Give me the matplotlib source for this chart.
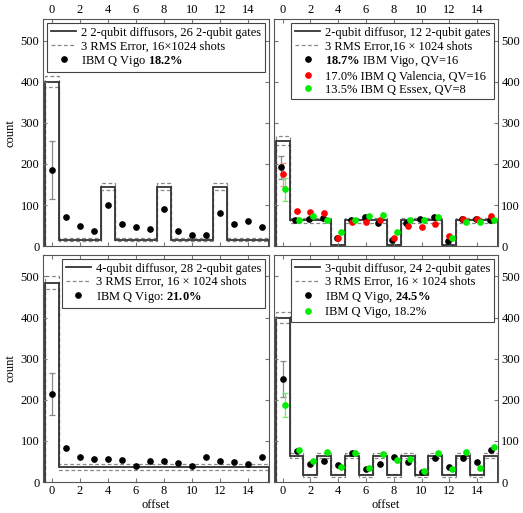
import numpy as np
import matplotlib
matplotlib.use('Agg')
import matplotlib.pyplot as plt
from matplotlib.lines import Line2D

plt.rcParams['font.family'] = ['Liberation Serif', 'DejaVu Serif']
plt.rcParams['font.size'] = 9
plt.rcParams['mathtext.fontset'] = 'custom'
plt.rcParams['mathtext.rm'] = 'Liberation Serif'
plt.rcParams['mathtext.bf'] = 'Liberation Serif:bold'

offsets = np.arange(16)
edges = np.arange(-0.5, 16.5)

# top left: 2 2-qubit diffusors
tl_ideal = [400, 16, 16, 16, 145, 16, 16, 16, 145, 16, 16, 16, 145, 16, 16, 16]
tl_err = [13, 3, 3, 3, 8, 3, 3, 3, 8, 3, 3, 3, 8, 3, 3, 3]
tl_vigo = [186, 70, 49, 36, 100, 53, 48, 41, 90, 38, 27, 27, 82, 53, 61, 46]
tl_vigo_err = 71

# top right: 2-qubit diffusor
tr_ideal = [257, 63, 63, 63, 2, 63, 63, 63, 2, 63, 63, 63, 2, 63, 63, 63]
tr_err = [12, 6, 6, 6, 2, 6, 6, 6, 2, 6, 6, 6, 2, 6, 6, 6]
tr_vigo = [192, 63, 66, 69, 19, 65, 71, 57, 15, 57, 67, 71, 12, 66, 66, 65]
tr_valencia = [175, 85, 84, 82, 20, 60, 60, 63, 20, 49, 47, 53, 26, 66, 66, 73]
tr_essex = [138, 65, 73, 65, 35, 65, 73, 76, 34, 64, 64, 70, 20, 59, 59, 65]
tr_point_err = 28

# bottom left: 4-qubit diffusor
bl_ideal = [485, 36, 36, 36, 36, 36, 36, 36, 36, 36, 36, 36, 36, 36, 36, 36]
bl_err = [16, 7, 7, 7, 7, 7, 7, 7, 7, 7, 7, 7, 7, 7, 7, 7]
bl_vigo = [214, 82, 61, 56, 57, 53, 40, 51, 52, 46, 40, 61, 52, 49, 43, 62]
bl_vigo_err = 51

# bottom right: 3-qubit diffusor
br_ideal = [400, 64, 16, 64, 16, 64, 16, 64, 16, 64, 16, 64, 16, 64, 16, 64]
br_err = [14, 6, 3, 6, 3, 6, 3, 6, 3, 6, 3, 6, 3, 6, 3, 6]
br_vigo = [251, 76, 44, 51, 42, 70, 32, 45, 61, 48, 25, 58, 37, 59, 49, 79]
br_vigo_err = 44
br_vigo2 = [187, 77, 51, 72, 37, 70, 34, 68, 54, 57, 27, 70, 32, 72, 35, 86]
br_vigo2_err = 29

line_col = '#333333'
dash_col = '#888888'
green = '#00ee00'
msize = 3.8


def draw_ideal(ax, ideal, err):
    ideal = np.array(ideal)
    err = np.array(err)
    ax.stairs(ideal + err, edges, baseline=0, color=dash_col, lw=0.9, ls=(0, (3, 2)))
    ax.stairs(ideal - err, edges, baseline=0, color=dash_col, lw=0.9, ls=(0, (3, 2)))
    ax.stairs(ideal, edges, baseline=0, color=line_col, lw=1.3)


def draw_points(ax, vals, err0, color, shift, ecolor):
    ax.plot(offsets + shift, vals, 'o', color=color, ms=msize, zorder=5)
    ax.errorbar([shift], [vals[0]], yerr=err0, fmt='none', ecolor=ecolor,
                elinewidth=0.9, capsize=2.5, capthick=0.9, zorder=4)


def style(ax, top, right):
    ax.set_xlim(-0.62, 15.5)
    ax.set_ylim(0, 552)
    ax.set_xticks(np.arange(0, 15, 2))
    ax.set_yticks(np.arange(0, 501, 100))
    ax.tick_params(direction='in', top=True, right=True, length=3, pad=2.5,
                   color='#777777', labelsize=9,
                   labeltop=top, labelbottom=not top,
                   labelright=right, labelleft=not right)
    for s in ax.spines.values():
        s.set_color('#555555')
        s.set_linewidth(0.8)


def add_legend(ax, labels, colors):
    handles = [Line2D([], [], color=line_col, lw=1.3),
               Line2D([], [], color=dash_col, lw=0.9, ls=(0, (3, 2)))]
    for c in colors:
        handles.append(Line2D([], [], ls='none', marker='o', color=c, ms=msize))
    leg = ax.legend(handles, labels, loc='upper right', fancybox=False,
                    framealpha=1, edgecolor='#444444', borderpad=0.3,
                    labelspacing=0.12, handlelength=2.0, handletextpad=0.4,
                    borderaxespad=0.3, fontsize=9)
    leg.get_frame().set_linewidth(0.8)


fig = plt.figure(figsize=(5.23, 5.13), dpi=100)
ax_tl = fig.add_axes([0.082, 0.520, 0.432, 0.4425])
ax_tr = fig.add_axes([0.524, 0.520, 0.428, 0.4425])
ax_bl = fig.add_axes([0.082, 0.0604, 0.432, 0.4425])
ax_br = fig.add_axes([0.524, 0.0604, 0.428, 0.4425])

# top left
draw_ideal(ax_tl, tl_ideal, tl_err)
draw_points(ax_tl, tl_vigo, tl_vigo_err, 'black', 0.0, '#888888')
style(ax_tl, top=True, right=False)
add_legend(ax_tl, ['2 2-qubit diffusors, 26 2-qubit gates',
                   '3 RMS Error, 16\u00d71024 shots',
                   r'IBM Q Vigo $\mathbf{18.2\%}$'], ['black'])
ax_tl.set_ylabel('count', labelpad=3)

# top right
draw_ideal(ax_tr, tr_ideal, tr_err)
draw_points(ax_tr, tr_vigo, tr_point_err, 'black', -0.1, '#888888')
draw_points(ax_tr, tr_valencia, tr_point_err, 'red', 0.0, '#ff8888')
draw_points(ax_tr, tr_essex, tr_point_err, green, 0.2, '#66ee66')
style(ax_tr, top=True, right=True)
add_legend(ax_tr, ['2-qubit diffusor, 12 2-qubit gates',
                   '3 RMS Error,16 \u00d7 1024 shots',
                   r'$\mathbf{18.7\%}$ IBM Vigo, QV=16',
                   '17.0% IBM Q Valencia, QV=16',
                   '13.5% IBM Q Essex, QV=8'], ['black', 'red', green])

# bottom left
draw_ideal(ax_bl, bl_ideal, bl_err)
draw_points(ax_bl, bl_vigo, bl_vigo_err, 'black', 0.0, '#888888')
style(ax_bl, top=False, right=False)
add_legend(ax_bl, ['4-qubit diffusor, 28 2-qubit gates',
                   '3 RMS Error, 16 \u00d7 1024 shots',
                   r'IBM Q Vigo: $\mathbf{21.0\%}$'], ['black'])
ax_bl.set_ylabel('count', labelpad=3)
ax_bl.set_xlabel('offset', labelpad=1)

# bottom right
draw_ideal(ax_br, br_ideal, br_err)
draw_points(ax_br, br_vigo, br_vigo_err, 'black', 0.0, '#888888')
draw_points(ax_br, br_vigo2, br_vigo2_err, green, 0.2, '#66ee66')
style(ax_br, top=False, right=True)
add_legend(ax_br, ['3-qubit diffusor, 24 2-qubit gates',
                   '3 RMS Error, 16 \u00d7 1024 shots',
                   r'IBM Q Vigo, $\mathbf{24.5\%}$',
                   'IBM Q Vigo, 18.2%'], ['black', green])
ax_br.set_xlabel('offset', labelpad=1)

plt.savefig('out.png', dpi=100)
